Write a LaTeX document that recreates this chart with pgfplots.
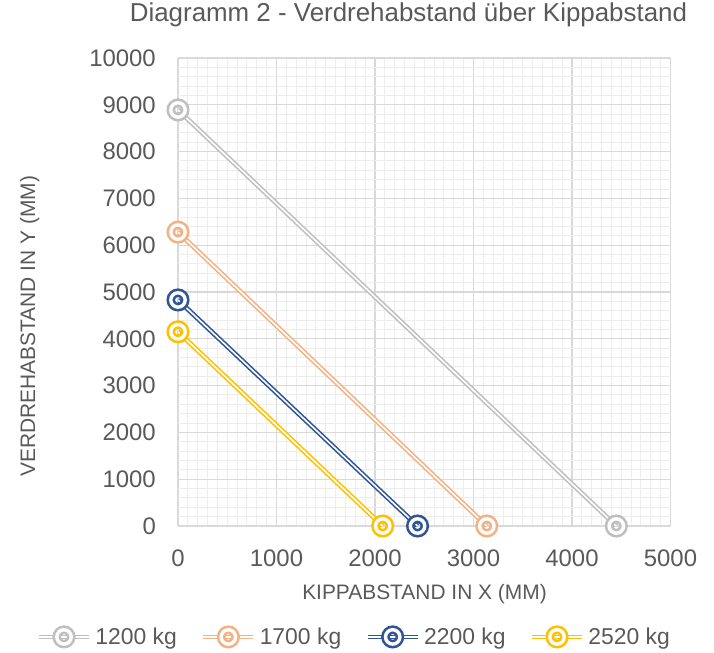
\documentclass[border=0pt]{standalone}
\usepackage{pgfplots}
\pgfplotsset{compat=1.18}
\usepackage{fontspec}
\setmainfont{Liberation Sans}
\definecolor{txt}{HTML}{595959}
\definecolor{gridmaj}{HTML}{D9D9D9}
\definecolor{gridmin}{HTML}{EDEDED}
\definecolor{cA}{HTML}{BFBFBF}
\definecolor{cB}{HTML}{F4B183}
\definecolor{cC}{HTML}{2F5597}
\definecolor{cD}{HTML}{FFC000}
\newcommand\leg[1]{%
  \draw[#1, line width=1.6bp, double=white, double distance=1.6bp] (0bp,0bp) -- (50bp,0bp);
  \draw[#1, line width=8.6bp] (25bp,0bp) circle (7.2bp);
  \draw[white, line width=3.4bp] (25bp,0bp) circle (7.2bp);}
\newcommand\series[3]{%
  \addplot[forget plot, #1, line width=1.6bp, double=white, double distance=1.6bp] coordinates {(0,#2) (#3,0)};
  \addplot[forget plot, only marks, mark=o, mark size=7.2bp, mark options={#1, line width=8.6bp}] coordinates {(0,#2) (#3,0)};
  \addplot[forget plot, only marks, mark=o, mark size=7.2bp, mark options={white, line width=3.4bp}] coordinates {(0,#2) (#3,0)};}
\begin{document}
\begin{tikzpicture}
\path[use as bounding box] (-178bp,-127bp) rectangle (536bp,526bp);
\begin{axis}[
  at={(0,0)}, anchor=south west,
  scale only axis, width=492.5bp, height=468bp,
  xmin=0, xmax=5000, ymin=0, ymax=10000,
  xtick={0,1000,...,5000}, ytick={0,1000,...,10000},
  minor x tick num=9, minor y tick num=4,
  grid=both,
  major grid style={draw=gridmaj, line width=1.3bp},
  minor grid style={draw=gridmin, line width=1bp},
  axis line style={draw=none},
  tick style={draw=none},
  scaled ticks=false,
  /pgf/number format/assume math mode=true,
  /pgf/number format/1000 sep={},
  tick label style={font=\fontsize{24}{28}\selectfont, text=txt},
  xticklabel style={anchor=base, inner sep=0pt, yshift=-40bp},
  yticklabel style={anchor=east, inner sep=0pt, xshift=-22bp},
  title={Diagramm 2 - Verdrehabstand über Kippabstand},
  title style={at={(axis description cs:0.468,1.066)}, anchor=base, inner sep=0pt, font=\fontsize{26}{30}\selectfont, text=txt},
  xlabel={KIPPABSTAND IN X (MM)},
  xlabel style={at={(axis description cs:0.5005,-0.158)}, anchor=base, inner sep=0pt, font=\fontsize{21}{25}\selectfont, text=txt},
  ylabel={VERDREHABSTAND IN Y (MM)},
  ylabel style={at={(axis description cs:-0.290,0.427)}, anchor=base, inner sep=0pt, font=\fontsize{21}{25}\selectfont, text=txt},
  legend columns=4,
  legend style={at={(axis description cs:0.36,-0.237)}, anchor=center, draw=none, fill=none,
    font=\fontsize{23}{27}\selectfont, text=txt,
    nodes={inner xsep=4bp},
    /tikz/every even column/.append style={column sep=20bp}},
]
\series{cA}{8890}{4450}
\series{cB}{6280}{3135}
\series{cC}{4830}{2432}
\series{cD}{4150}{2078}
\addlegendimage{legend image code/.code={\leg{cA}}}
\addlegendimage{legend image code/.code={\leg{cB}}}
\addlegendimage{legend image code/.code={\leg{cC}}}
\addlegendimage{legend image code/.code={\leg{cD}}}
\legend{1200 kg, 1700 kg, 2200 kg, 2520 kg}
\end{axis}
\end{tikzpicture}
\end{document}
